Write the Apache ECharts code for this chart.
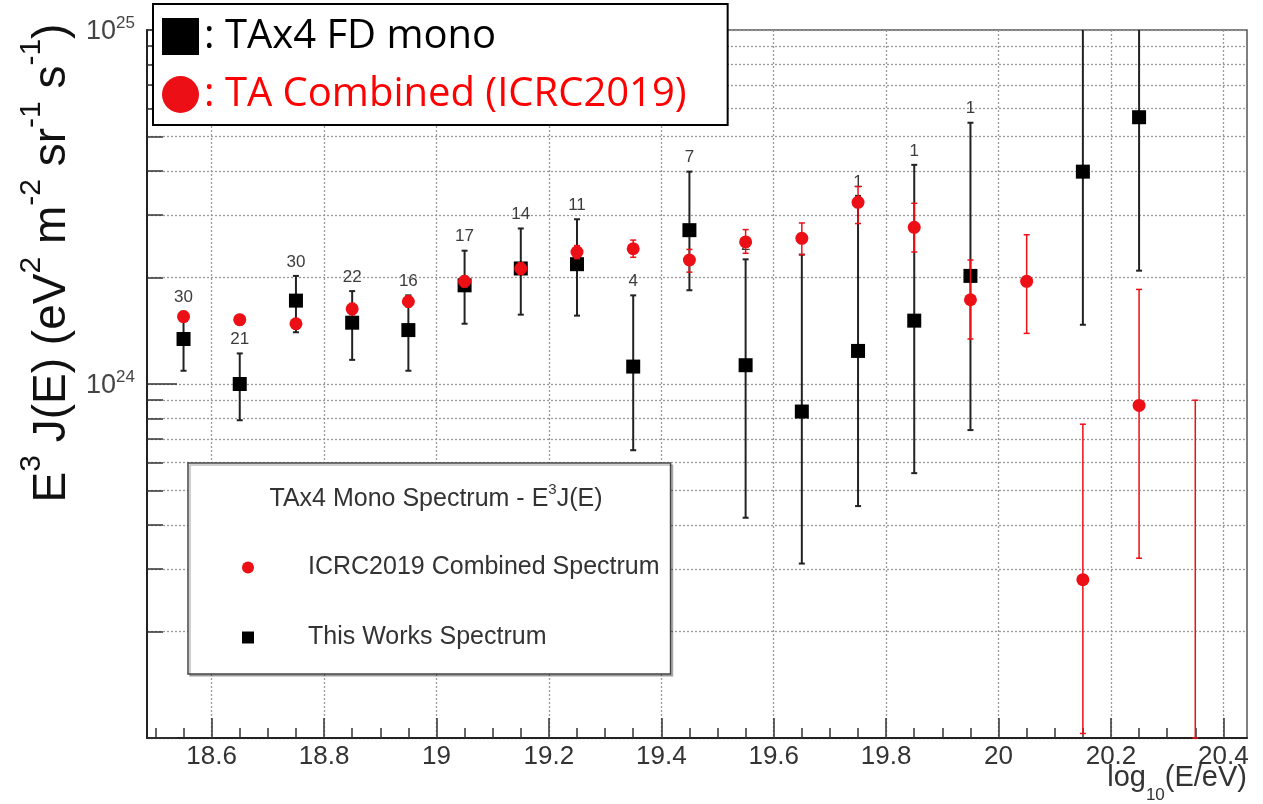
<!DOCTYPE html>
<html>
<head>
<meta charset="utf-8">
<title>TAx4 Mono Spectrum - E3J(E)</title>
<script src="https://cdn.jsdelivr.net/npm/echarts@6/dist/echarts.min.js"></script>
<style>
  html, body { margin: 0; padding: 0; background: #fff; }
  #chart { width: 1263px; height: 804px; }
</style>
</head>
<body>
<div id="chart"></div>
<script>
// bin centres, log10(E/eV)
var energies = [18.55, 18.65, 18.75, 18.85, 18.95, 19.05, 19.15, 19.25, 19.35, 19.45,
                19.55, 19.65, 19.75, 19.85, 19.95, 20.05, 20.15, 20.25, 20.35];

// TAx4 FD mono (this work), E^3 J(E) in eV^2 m^-2 sr^-1 s^-1
var monoFlux = [1.34e24, 1.00e24, 1.72e24, 1.49e24, 1.42e24, 1.90e24, 2.12e24, 2.18e24, 1.12e24, 2.72e24,
                1.13e24, 8.36e23, 1.24e24, 1.51e24, 2.02e24, null, 3.98e24, 5.67e24, null];
var monoLow = [1.09e24, 7.9e23, 1.40e24, 1.17e24, 1.09e24, 1.48e24, 1.57e24, 1.56e24, 6.5e23, 1.84e24,
               4.19e23, 3.11e23, 4.52e23, 5.6e23, 7.41e23, null, 1.47e24, 2.09e24, null];
var monoHigh = [1.60e24, 1.22e24, 2.02e24, 1.83e24, 1.78e24, 2.38e24, 2.75e24, 2.92e24, 1.78e24, 3.98e24,
                2.25e24, 2.32e24, 3.40e24, 4.16e24, 5.47e24, null, 1.3e25, 1.6e25, null];
var monoEvents = [30, 21, 30, 22, 16, 17, 14, 11, 4, 7, 2, null, 1, 1, 1, null, null, null, null];

// TA combined spectrum (ICRC2019)
var combFlux = [1.55e24, 1.52e24, 1.48e24, 1.63e24, 1.71e24, 1.95e24, 2.12e24, 2.36e24, 2.41e24, 2.24e24,
                2.52e24, 2.58e24, 3.26e24, 2.77e24, 1.73e24, 1.95e24, 2.8e23, 8.7e23, null];
var combLow = [1.50e24, 1.47e24, 1.43e24, 1.57e24, 1.65e24, 1.88e24, 2.04e24, 2.26e24, 2.28e24, 2.07e24,
               2.34e24, 2.32e24, 2.84e24, 2.36e24, 1.34e24, 1.39e24, 1.03e23, 3.22e23, 1.0e23];
var combHigh = [1.60e24, 1.57e24, 1.53e24, 1.69e24, 1.77e24, 2.02e24, 2.20e24, 2.46e24, 2.55e24, 2.40e24,
                2.73e24, 2.85e24, 3.61e24, 3.24e24, 2.24e24, 2.64e24, 7.7e23, 1.85e24, 9.0e23];

// axis ticks
var xMajorTicks = [18.6, 18.8, 19, 19.2, 19.4, 19.6, 19.8, 20, 20.2, 20.4];
var xMinorTicks = [18.5, 18.55, 18.65, 18.7, 18.75, 18.85, 18.9, 18.95, 19.05, 19.1, 19.15,
                   19.25, 19.3, 19.35, 19.45, 19.5, 19.55, 19.65, 19.7, 19.75, 19.85, 19.9, 19.95,
                   20.05, 20.1, 20.15, 20.25, 20.3, 20.35];
var yMajorTicks = [1e23, 1e24, 1e25];
var yLabelTicks = [1e24, 1e25];
var yMinorTicks = [2e23, 3e23, 4e23, 5e23, 6e23, 7e23, 8e23, 9e23,
                   2e24, 3e24, 4e24, 5e24, 6e24, 7e24, 8e24, 9e24];

var MONO = 'This Works Spectrum';
var COMB = 'ICRC2019 Combined Spectrum';
var sans = 'Liberation Sans, Arial, sans-serif';
var red = '#ec0f16';
var squareIcon = 'path://M0,0L10,0L10,10L0,10Z';
var grid = { color: '#999', type: [2, 2], width: 1.3 };

function points(flux) {
  var out = [];
  for (var i = 0; i < energies.length; i++) {
    if (flux[i] != null) out.push([energies[i], flux[i]]);
  }
  return out;
}

function bars(low, high) {
  var out = [];
  for (var i = 0; i < energies.length; i++) {
    if (low[i] != null) out.push([energies[i], low[i], high[i], i]);
  }
  return out;
}

function errorBars(color, width, labels) {
  return function(params, api) {
    var cs = params.coordSys;
    var x = api.value(0);
    var pLo = api.coord([x, api.value(1)]);
    var pHi = api.coord([x, api.value(2)]);
    var yTop = Math.max(pHi[1], cs.y);
    var yBot = Math.min(pLo[1], cs.y + cs.height);
    var px = pLo[0];
    var kids = [{
      type: 'line',
      shape: { x1: px, y1: yTop, x2: px, y2: yBot },
      style: { stroke: color, lineWidth: width }
    }];
    if (pHi[1] >= cs.y) kids.push({ type: 'line', shape: { x1: px - 3, y1: pHi[1], x2: px + 3, y2: pHi[1] }, style: { stroke: color, lineWidth: width } });
    if (pLo[1] <= cs.y + cs.height) kids.push({ type: 'line', shape: { x1: px - 3, y1: pLo[1], x2: px + 3, y2: pLo[1] }, style: { stroke: color, lineWidth: width } });
    var n = labels ? labels[api.value(3)] : null;
    if (n != null && pHi[1] >= cs.y) {
      kids.push({
        type: 'text', x: px, y: pHi[1] - 14,
        style: { text: String(n), align: 'center', verticalAlign: 'middle', fontSize: 17, fontFamily: sans, fill: '#3c3c3c' }
      });
    }
    return { type: 'group', children: kids };
  };
}

var chart = echarts.init(document.getElementById('chart'), null, { renderer: 'canvas' });

chart.setOption({
  animation: false,
  backgroundColor: '#fff',
  grid: {
    left: 147, right: 16, top: 30, bottom: 66,
    outerBoundsMode: 'none',
    show: true, borderColor: '#555', borderWidth: 1.5, backgroundColor: 'transparent'
  },
  xAxis: [{
    type: 'value', min: 18.485, max: 20.442,
    axisLine: { show: true, onZero: false, lineStyle: { color: '#222', width: 2 } },
    axisTick: { inside: true, length: 20, customValues: xMajorTicks, lineStyle: { color: '#333', width: 1.5 } },
    axisLabel: { customValues: xMajorTicks, fontSize: 26, fontFamily: sans, color: '#333', margin: 6 },
    splitLine: { show: true, lineStyle: grid }
  }, {
    type: 'value', min: 18.485, max: 20.442, position: 'bottom',
    axisLine: { show: false },
    axisTick: { inside: true, length: 10, customValues: xMinorTicks, lineStyle: { color: '#333', width: 1.5 } },
    axisLabel: { show: false },
    splitLine: { show: false }
  }],
  yAxis: [{
    type: 'log', logBase: 10, min: 1e23, max: 1e25,
    axisLine: { show: true, onZero: false, lineStyle: { color: '#222', width: 2 } },
    axisTick: { inside: true, length: 30, customValues: yMajorTicks, lineStyle: { color: '#333', width: 1.5 } },
    axisLabel: {
      customValues: yLabelTicks, margin: 12,
      formatter: function(v) { return '{b|10}{s|' + Math.round(Math.log10(v)) + '}'; },
      rich: {
        b: { fontSize: 27, fontFamily: sans, color: '#444', lineHeight: 30, verticalAlign: 'bottom' },
        s: { fontSize: 17, fontFamily: sans, color: '#444', lineHeight: 14, verticalAlign: 'top' }
      }
    },
    splitLine: { show: true, lineStyle: grid }
  }, {
    type: 'log', logBase: 10, min: 1e23, max: 1e25, position: 'left',
    axisLine: { show: false },
    axisTick: { inside: true, length: 16, customValues: yMinorTicks, lineStyle: { color: '#333', width: 1.5 } },
    axisLabel: { show: false },
    splitLine: { show: true, lineStyle: grid }
  }],
  legend: [{
    orient: 'vertical', left: 188, top: 463,
    padding: [92, 11, 24, 54],
    itemWidth: 110, itemHeight: 12, itemGap: 45,
    backgroundColor: '#fff', borderColor: '#444', borderWidth: 1.5,
    shadowColor: 'rgba(0,0,0,0.25)', shadowOffsetX: 2, shadowOffsetY: 2,
    selectedMode: false,
    textStyle: { fontSize: 25, lineHeight: 25, fontFamily: sans, color: '#333' },
    data: [{ name: COMB, icon: 'circle' }, { name: MONO, icon: squareIcon }]
  }, {
    orient: 'vertical', left: 153, top: 4,
    padding: [12, 41, 10, 9],
    itemWidth: 37, itemHeight: 37, itemGap: 17,
    backgroundColor: '#fff', borderColor: '#000', borderWidth: 2,
    selectedMode: false,
    textStyle: { fontSize: 40, lineHeight: 41, fontFamily: 'Open Sans, sans-serif', color: '#000' },
    formatter: function(name) { return name === MONO ? ': TAx4 FD mono' : ': TA Combined (ICRC2019)'; },
    data: [
      { name: MONO, icon: squareIcon, textStyle: { color: '#000' } },
      { name: COMB, icon: 'circle', textStyle: { color: '#ff0000' } }
    ]
  }],
  graphic: [{
    type: 'text', x: 46, y: 263, rotation: Math.PI / 2, z: 10,
    style: {
      text: '{m|E}{s|3}{m| J(E) (eV}{s|2}{m| m}{s|-2}{m| sr}{s|-1}{m| s}{s|-1}{m|)}',
      align: 'center', verticalAlign: 'middle',
      rich: {
        m: { fontSize: 46, fontFamily: sans, fill: '#111', lineHeight: 58, verticalAlign: 'bottom' },
        s: { fontSize: 30, fontFamily: sans, fill: '#111', lineHeight: 30, verticalAlign: 'top' }
      }
    }
  }, {
    type: 'text', x: 436, y: 497, z: 10,
    style: {
      text: '{a|TAx4 Mono Spectrum - E}{s|3}{a|J(E)}',
      align: 'center', verticalAlign: 'middle',
      rich: {
        a: { fontSize: 25, fontFamily: sans, fill: '#333', lineHeight: 30, verticalAlign: 'bottom' },
        s: { fontSize: 15, fontFamily: sans, fill: '#333', lineHeight: 16, verticalAlign: 'top' }
      }
    }
  }, {
    type: 'text', x: 1247, y: 763, z: 10,
    style: {
      text: '{a|log}{s|10}{a|(E/eV)}',
      align: 'right', verticalAlign: 'top',
      rich: {
        a: { fontSize: 29, fontFamily: sans, fill: '#333', lineHeight: 30, verticalAlign: 'top' },
        s: { fontSize: 17, fontFamily: sans, fill: '#333', lineHeight: 41, verticalAlign: 'bottom' }
      }
    }
  }],
  series: [{
    name: 'mono-err', type: 'custom', silent: true, z: 2,
    renderItem: errorBars('#222', 2, monoEvents),
    data: bars(monoLow, monoHigh)
  }, {
    name: MONO, type: 'scatter', symbol: 'rect', symbolSize: 14, z: 3, silent: true,
    itemStyle: { color: '#000', opacity: 1 },
    data: points(monoFlux)
  }, {
    name: 'comb-err', type: 'custom', silent: true, z: 4,
    renderItem: errorBars(red, 1.5, null),
    data: bars(combLow, combHigh)
  }, {
    name: COMB, type: 'scatter', symbol: 'circle', symbolSize: 13, z: 5, silent: true,
    itemStyle: { color: red, opacity: 1 },
    data: points(combFlux)
  }]
});
</script>
</body>
</html>
